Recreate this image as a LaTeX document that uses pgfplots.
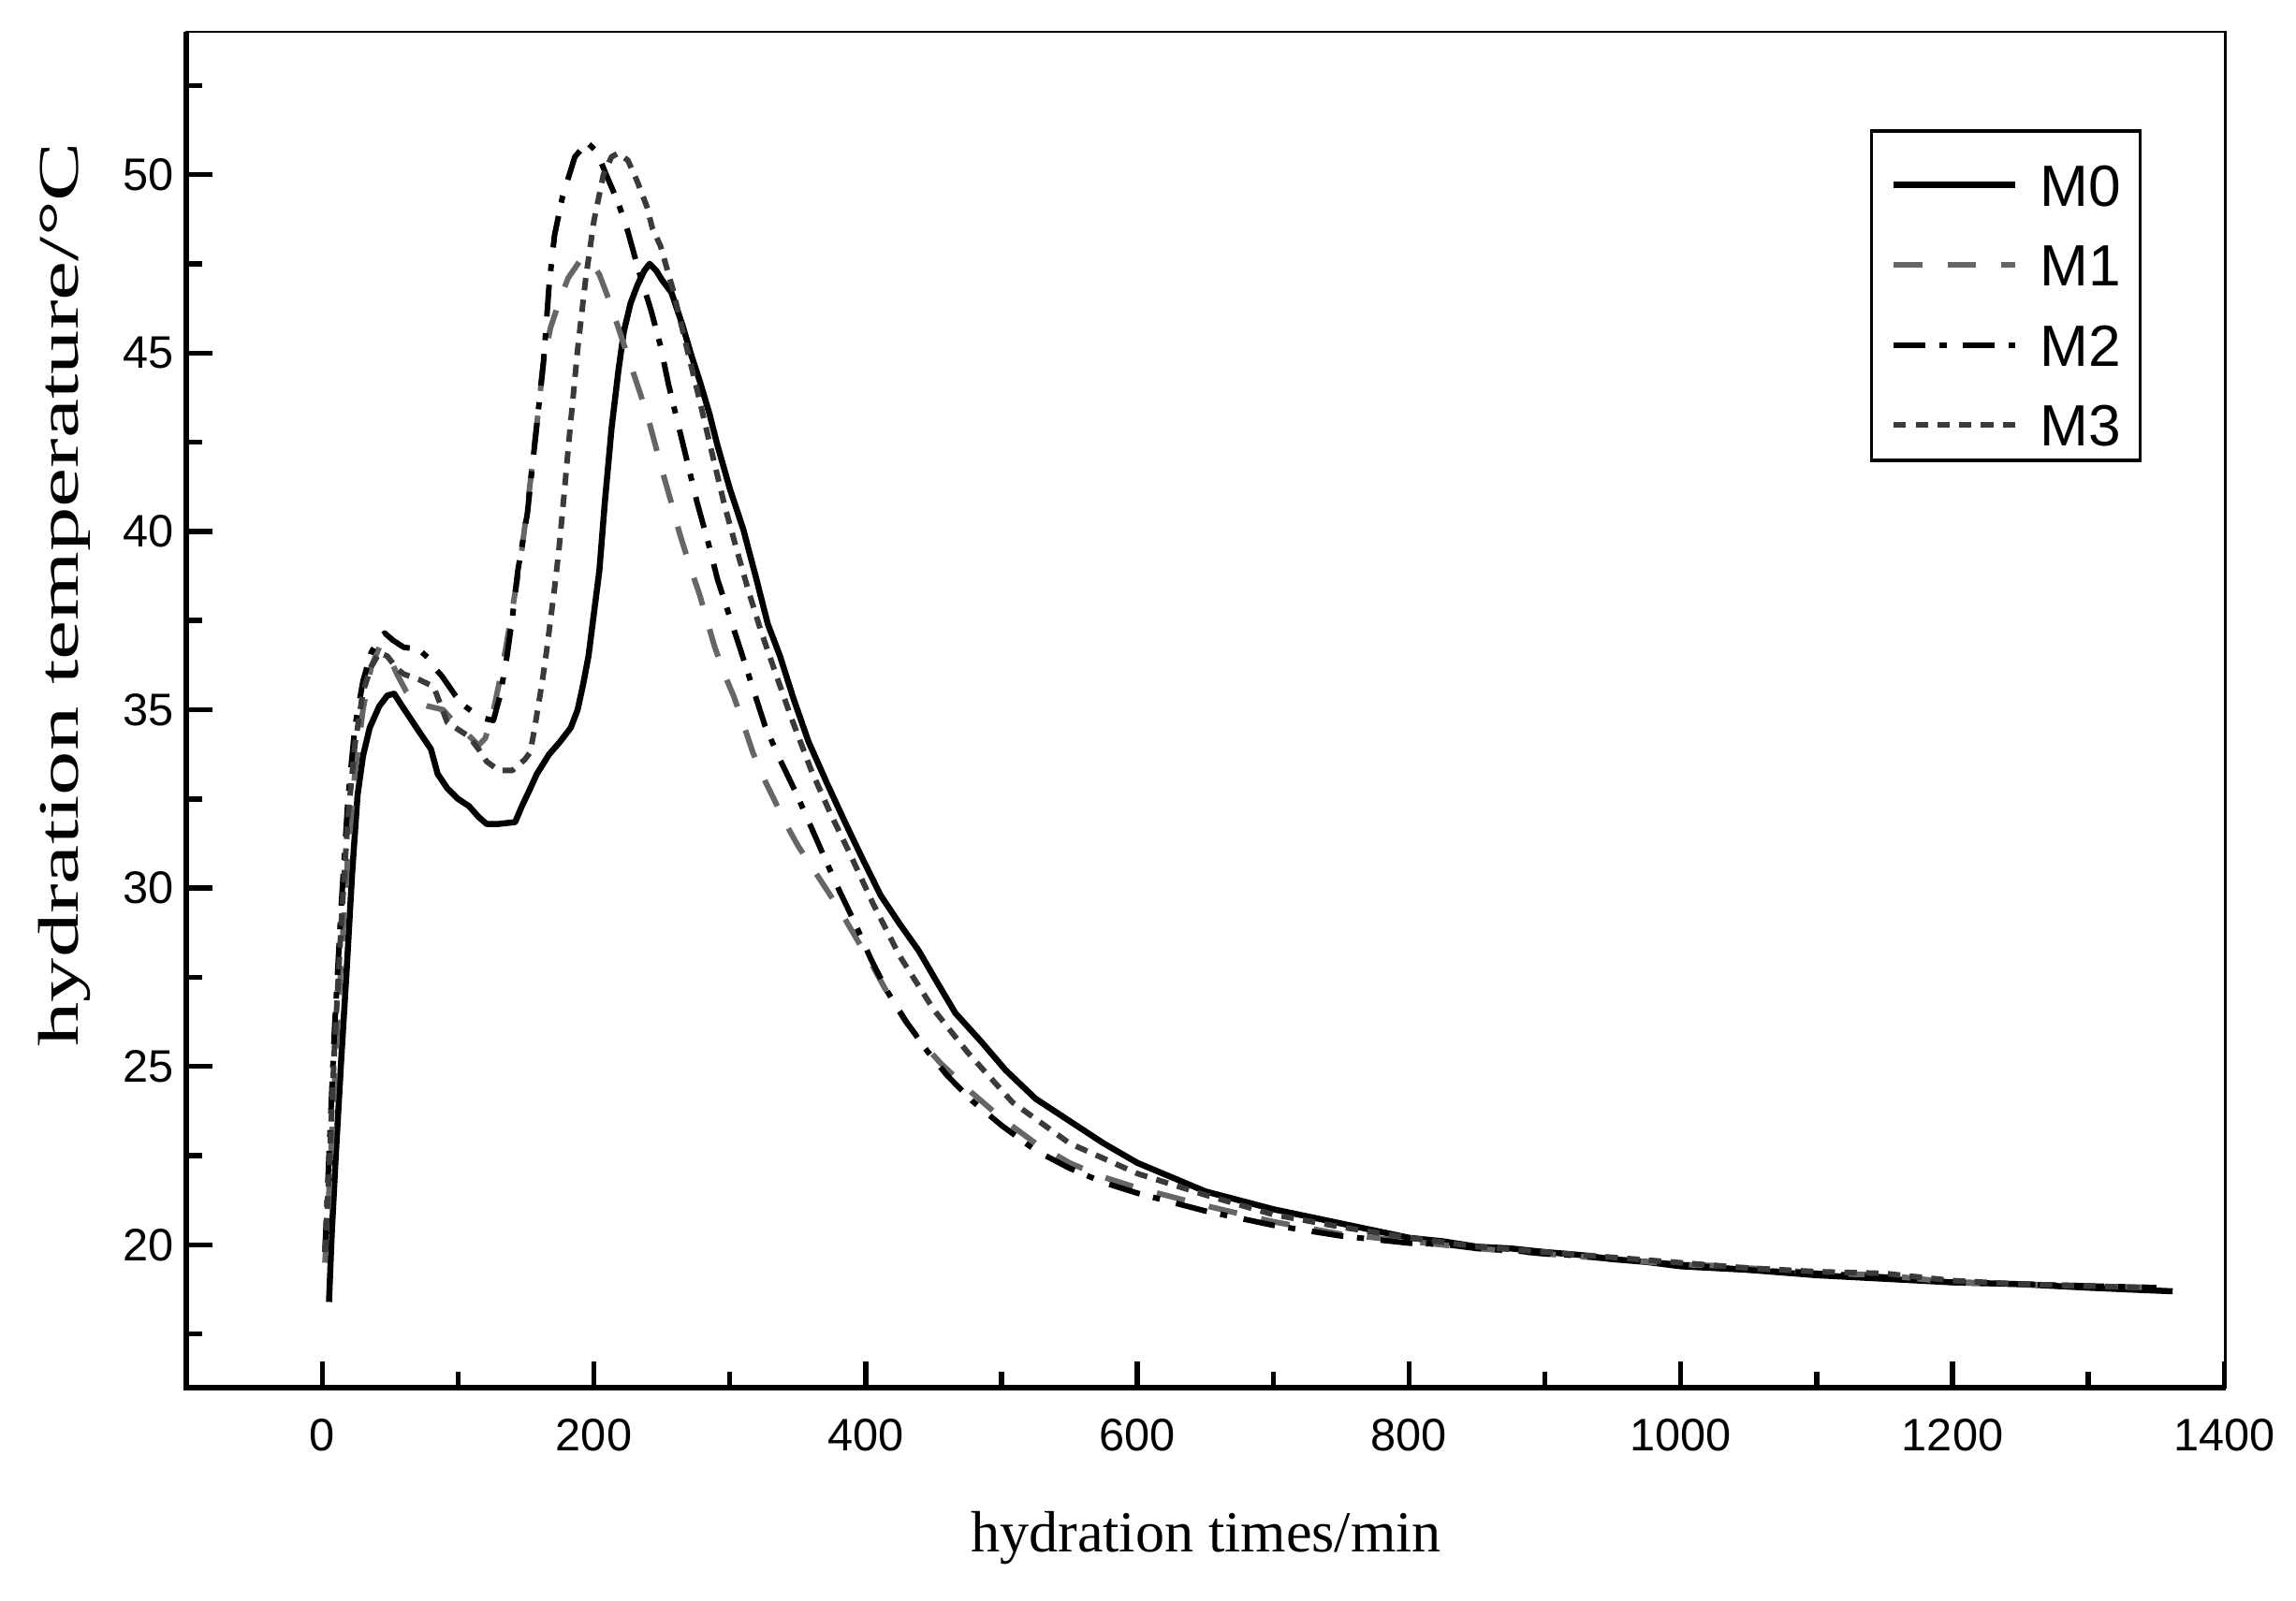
\documentclass[border=0pt]{standalone}
\usepackage{graphicx}
\usepackage{fontspec}
\setmainfont{Liberation Sans}
\newfontfamily\seriffont{Liberation Serif}
\usepackage{pgfplots}
\pgfplotsset{compat=1.18}
\definecolor{mgray}{HTML}{666666}
\definecolor{dgray}{HTML}{3A3A3A}
\begin{document}
\begin{tikzpicture}
\begin{axis}[
  scale only axis, width=402.7pt, height=267.8pt,
  xmin=-100, xmax=1401, ymin=16, ymax=54,
  clip=false,
  xtick={0,200,...,1400}, minor xtick={100,300,...,1300},
  ytick={20,25,...,50}, minor ytick={17.5,22.5,...,52.5},
  tick align=inside, tick pos=left,
  major tick length=5.2pt, minor tick length=3.2pt,
  tick style={black, line width=1pt},
  axis line style={line width=0.5pt},
  tick label style={font=\fontsize{9}{11}\selectfont},
  /pgf/number format/assume math mode=true,
  /pgf/number format/1000 sep={},
  xticklabel style={yshift=-2.7pt},
  yticklabel style={xshift=1pt},
  xlabel={\seriffont\fontsize{11.5}{13}\selectfont hydration times/min},
  ylabel={\scalebox{1.55}[1]{\seriffont\fontsize{11.3}{13}\selectfont hydration temperature/°C}},
  xlabel style={at={(axis description cs:0.5,-0.111)}, anchor=center},
  ylabel style={at={(axis description cs:-0.0596,0.585)}, anchor=center},
  legend style={at={(0.959,0.928)}, anchor=north east, draw=black, line width=0.7pt,
    fill=white, inner xsep=3.8pt, inner ysep=2.8pt, row sep=3.8pt, column sep=4.3pt,
    nodes={inner sep=0pt, text height=12pt, text depth=0pt},
    font=\fontsize{11.5}{13}\selectfont},
  legend cell align=left,
  legend image code/.code={\draw[#1] (0pt,-1.8pt) -- (24pt,-1.8pt);},
  every axis plot/.append style={line join=round},
]
\addplot[black, line width=1.2pt] coordinates {
(5,18.4)(7,20.3)(10,22.5)(14,25.2)(18,27.7)(22,30.4)(26,32.6)(30,33.7)(35,34.5)(42,35.1)(48,35.4)(53,35.45)(58,35.15)(65,34.75)(72,34.35)(80,33.9)(85,33.2)(92,32.8)(100,32.5)(108,32.3)(115,32.0)(121,31.8)(130,31.8)(142,31.85)(147,32.3)(152,32.7)(158,33.2)(167,33.75)(175,34.1)(183,34.5)(188,35.0)(192,35.7)(196,36.5)(199,37.4)(204,38.9)(208,40.8)(213,42.9)(218,44.5)(222,45.6)(227,46.4)(232,46.9)(237,47.3)(241,47.5)(246,47.3)(250,47.05)(257,46.7)(265,45.8)(272,44.9)(278,44.2)(285,43.3)(291,42.4)(300,41.2)(310,40.05)(320,38.6)(328,37.4)(337,36.5)(347,35.3)(358,34.1)(372,32.9)(386,31.75)(398,30.8)(411,29.8)(425,29.0)(439,28.25)(452,27.4)(466,26.5)(485,25.7)(503,24.9)(525,24.1)(549,23.5)(575,22.85)(600,22.3)(625,21.9)(650,21.5)(675,21.25)(700,21.0)(750,20.6)(800,20.2)(825,20.1)(850,19.95)(875,19.9)(900,19.8)(925,19.72)(950,19.6)(975,19.52)(1000,19.4)(1050,19.3)(1100,19.15)(1150,19.05)(1200,18.95)(1250,18.9)(1300,18.8)(1330,18.75)(1362,18.7)
};
\addlegendentry{M0}
\addplot[mgray, line width=1.1pt, dash pattern=on 5.7pt off 4.9pt] coordinates {
(2,19.5)(5,21.5)(9,24.5)(14,28.0)(19,31.0)(24,33.2)(30,35.0)(36,36.2)(42,36.75)(48,36.6)(55,36.0)(62,35.5)(68,35.25)(78,35.1)(89,35.0)(96,34.7)(103,34.45)(110,34.2)(115,34.0)(120,34.2)(125,34.8)(130,35.7)(135,36.7)(139,37.6)(146,39.2)(152,41.0)(158,43.0)(163,44.8)(168,45.7)(174,46.4)(181,47.1)(190,47.6)(197,47.6)(204,47.2)(211,46.5)(218,45.7)(225,44.9)(232,44.1)(239,43.3)(245,42.45)(251,41.6)(257,40.8)(263,39.95)(270,39.1)(278,38.2)(284,37.4)(289,36.75)(296,36.0)(303,35.37)(310,34.6)(317,33.8)(326,33.0)(335,32.3)(342,31.75)(350,31.2)(362,30.5)(373,29.86)(383,29.25)(393,28.6)(404,27.9)(414,27.2)(429,26.28)(442,25.65)(455,25.1)(478,24.27)(500,23.55)(525,22.85)(550,22.3)(575,21.9)(600,21.6)(650,21.1)(700,20.65)(750,20.3)(800,20.1)(850,19.9)(900,19.75)(950,19.6)(1000,19.45)(1025,19.42)(1050,19.35)(1075,19.3)(1100,19.2)(1125,19.18)(1150,19.15)(1175,19.05)(1200,18.95)(1250,18.9)(1300,18.85)(1355,18.8)
};
\addlegendentry{M1}
\addplot[black, line width=1.1pt, dash pattern=on 6.3pt off 2.7pt on 1.4pt off 3.3pt] coordinates {
(2,19.8)(5,22.5)(9,26.0)(14,29.5)(19,32.5)(24,34.5)(30,35.8)(36,36.6)(42,37.0)(46,37.15)(52,36.95)(60,36.75)(71,36.7)(78,36.45)(82,36.2)(88,35.95)(98,35.4)(105,35.1)(112,34.9)(120,34.75)(126,34.7)(131,35.4)(136,36.5)(140,37.6)(144,38.9)(151,40.5)(157,42.65)(163,44.8)(167,46.9)(171,48.3)(177,49.4)(186,50.5)(195,50.9)(202,50.65)(209,50.0)(218,49.2)(225,48.4)(233,47.3)(242,46.2)(249,45.2)(255,44.1)(262,43.0)(269,41.9)(276,40.8)(284,39.7)(291,38.65)(300,37.6)(309,36.55)(317,35.6)(326,34.54)(337,33.6)(349,32.65)(360,31.7)(370,30.83)(381,29.9)(392,29.03)(404,28.0)(416,27.1)(430,26.25)(445,25.45)(460,24.75)(478,24.05)(500,23.35)(525,22.65)(550,22.15)(575,21.75)(600,21.45)(650,20.95)(700,20.55)(750,20.25)(800,20.05)(825,20.02)(850,19.9)(875,19.85)(900,19.75)(925,19.7)(950,19.6)(1000,19.45)(1050,19.3)(1100,19.2)(1150,19.1)(1200,18.95)(1250,18.9)(1300,18.85)(1350,18.8)
};
\addlegendentry{M2}
\addplot[dgray, line width=1.1pt, dash pattern=on 2.45pt off 1.85pt] coordinates {
(2,19.8)(5,22.0)(9,25.5)(14,29.0)(19,32.0)(24,34.0)(30,35.5)(36,36.2)(42,36.6)(48,36.5)(55,36.15)(60,36.0)(71,35.85)(82,35.65)(92,34.65)(100,34.45)(108,34.25)(115,33.9)(121,33.55)(130,33.3)(140,33.3)(149,33.6)(153,33.8)(156,34.4)(159,35.1)(162,35.8)(165,36.6)(168,37.5)(171,38.4)(174,39.4)(177,40.6)(182,42.7)(188,45.1)(194,47.1)(200,48.7)(207,50.0)(213,50.5)(218,50.6)(225,50.4)(232,49.8)(239,49.1)(243,48.5)(249,48.0)(258,46.8)(268,45.2)(277,43.8)(285,42.5)(296,40.75)(305,39.5)(314,38.3)(323,37.2)(333,36.1)(345,34.8)(360,33.3)(374,32.1)(388,31.0)(405,29.6)(425,28.1)(450,26.6)(475,25.4)(508,24.0)(550,22.85)(600,22.0)(650,21.4)(700,20.85)(750,20.5)(800,20.2)(850,19.95)(900,19.8)(950,19.65)(1000,19.5)(1050,19.35)(1100,19.25)(1150,19.2)(1200,19.0)(1250,18.9)(1300,18.85)(1340,18.8)
};
\addlegendentry{M3}
\draw[line width=1.1pt] (rel axis cs:0,1) -- (rel axis cs:0,0) -- (rel axis cs:1,0);
\coordinate (SW) at (rel axis cs:0,0);
\coordinate (NE) at (rel axis cs:1,1);
\end{axis}
\pgfresetboundingbox
\path ([shift={(-36.8pt,-42pt)}]SW) rectangle ([shift={(13.9pt,6.3pt)}]NE);
\end{tikzpicture}
\end{document}
